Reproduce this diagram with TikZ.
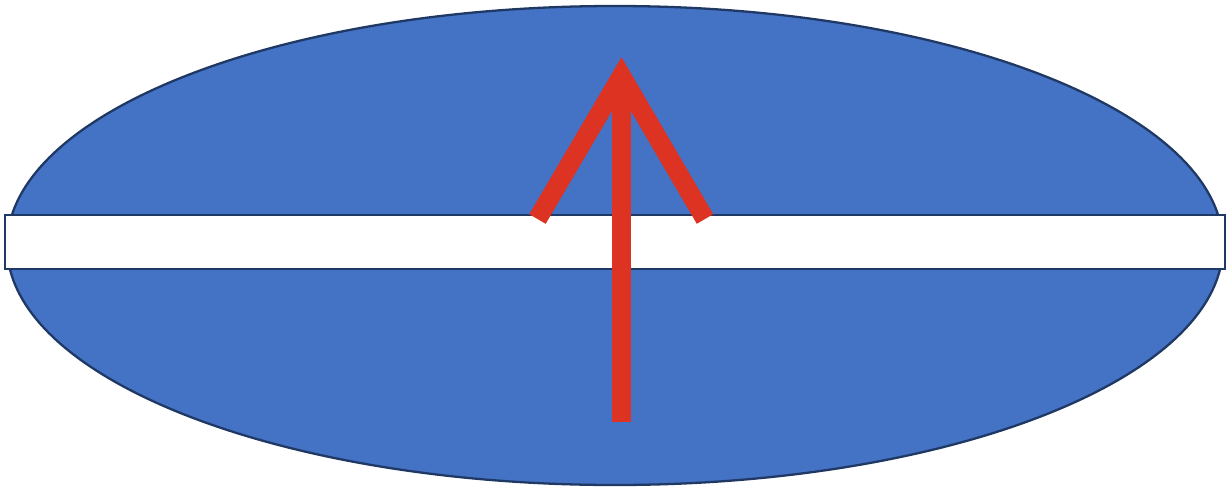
\documentclass[tikz,border=0pt]{standalone}
\usepackage{tikz}

\definecolor{discblue}{HTML}{4472C4}
\definecolor{discedge}{HTML}{1F3864}
\definecolor{spinred}{HTML}{DC3323}

\begin{document}
\begin{tikzpicture}[x=0.02cm, y=-0.02cm,
    disc/.style={fill=discblue, draw=discedge, line width=1.3pt},
    band/.style={fill=white, draw=discedge, line width=1.3pt},
    spin/.style={draw=spinred, line width=0.38cm, line cap=butt, line join=miter}]
    \useasboundingbox (0,0) rectangle (1231,487);

    \draw[disc] (615,245.5) ellipse [x radius=608, y radius=239.5];
    \draw[band] (5,215) rectangle (1225,269);

    \coordinate (tail) at (621.5,422);
    \coordinate (tip) at (621.5,76);
    \coordinate (leftarm) at (537.5,219);
    \coordinate (rightarm) at (705,219);
    \draw[spin] (tail) -- (tip);
    \draw[spin] (leftarm) -- (tip) -- (rightarm);
\end{tikzpicture}
\end{document}
